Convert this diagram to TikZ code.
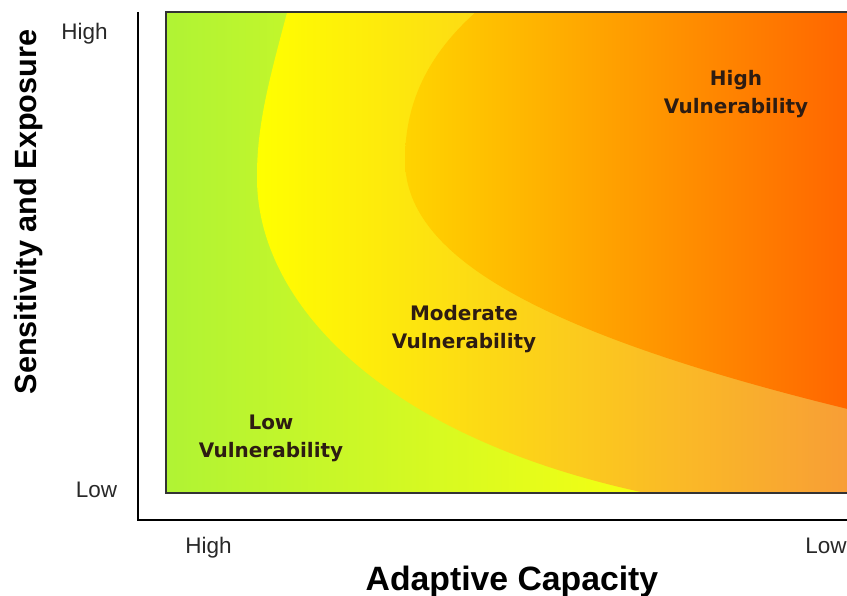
\documentclass[tikz,border=0pt]{standalone}
\usepackage{fontspec}
\setmainfont{Liberation Sans}
\newfontfamily\zonefont{DejaVu Sans}
\definecolor{lowgreen}{RGB}{176,243,52}
\definecolor{lowyellow}{RGB}{246,255,18}
\definecolor{modyellow}{RGB}{255,255,0}
\definecolor{modamber}{RGB}{254,204,44}
\definecolor{modorange}{RGB}{248,158,54}
\definecolor{hiamber}{RGB}{255,212,0}
\definecolor{hiorange}{RGB}{255,168,0}
\definecolor{hired}{RGB}{255,102,0}
\definecolor{zonetext}{RGB}{45,28,18}
\definecolor{ticktext}{RGB}{40,40,40}

\begin{document}
\begin{tikzpicture}[
    x=0.025cm, y=-0.025cm,
    zone/.style={font=\zonefont\bfseries\fontsize{14.2}{19.9}\selectfont, text=zonetext, align=center, inner sep=0pt},
    scalelabel/.style={font=\fontsize{16}{19}\selectfont, text=ticktext, anchor=base, inner sep=0pt},
    axistitle/.style={font=\bfseries\fontsize{24}{28}\selectfont, inner sep=0pt},
    sidetitle/.style={font=\bfseries\fontsize{21.8}{26}\selectfont, inner sep=0pt, rotate=90},
    axisline/.style={line width=1.2pt, black},
    frameline/.style={draw=black!80, line width=0.9pt}
]
    \useasboundingbox (0,0) rectangle (847,596);
    \coordinate (top) at (138,12);
    \coordinate (origin) at (138,520);
    \coordinate (right) at (847,520);

    \begin{scope}
        \clip (166,12) rectangle (860,493);
        \shade[left color=lowgreen, right color=lowyellow] (166,12) rectangle (650,493);
        \begin{scope}
            \clip (289,5) .. controls (272,70) and (257,120) .. (257,175)
                .. controls (255,300) and (380,440) .. (660,496)
                -- (900,520) -- (900,0) -- cycle;
            \shade[left color=modyellow, middle color=modamber, right color=modorange] (255,0) rectangle (847,500);
        \end{scope}
        \begin{scope}
            \clip (484,5) .. controls (430,50) and (405,100) .. (405,160)
                .. controls (405,250) and (520,330) .. (860,412)
                -- (900,0) -- cycle;
            \shade[left color=hiamber, middle color=hiorange, right color=hired] (405,0) rectangle (847,420);
        \end{scope}
    \end{scope}
    \draw[frameline] (166,12) rectangle (860,493);
    \draw[axisline] (top) -- (origin) -- (right);

    \node[zone] (lowzone) at (271,438.5) {Low\\Vulnerability};
    \node[zone] (modzone) at (464,329.5) {Moderate\\Vulnerability};
    \node[zone] (highzone) at (736,94) {High\\Vulnerability};

    \node[scalelabel] (yhigh) at (84.5,40) {High};
    \node[scalelabel] (ylow) at (96.5,497) {Low};
    \node[scalelabel] (xhigh) at (208.5,553) {High};
    \node[scalelabel] (xlow) at (826,553) {Low};

    \node[sidetitle] (ytitle) at (28.5,212) {Sensitivity and Exposure};
    \node[axistitle, anchor=base] (xtitle) at (512,590) {Adaptive Capacity};
\end{tikzpicture}
\end{document}
